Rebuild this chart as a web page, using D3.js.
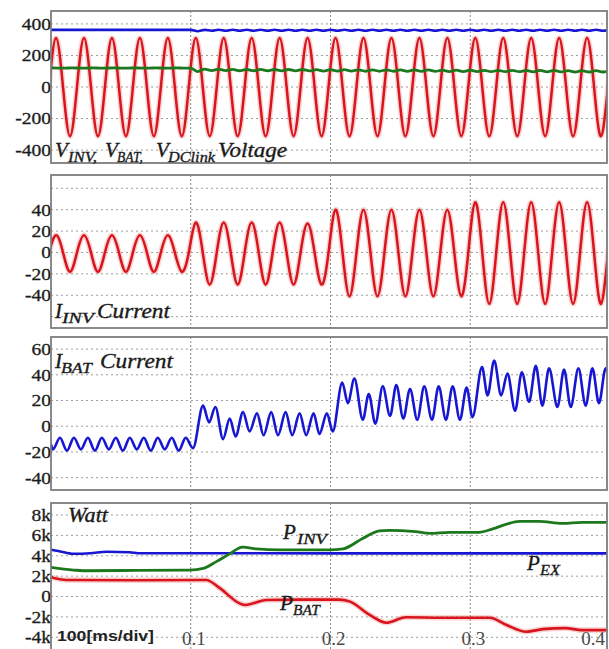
<!DOCTYPE html>
<html>
<head>
<meta charset="utf-8">
<script src="https://cdn.jsdelivr.net/npm/d3@7"></script>
<style>
    body { margin: 0; background: #fff; }
    svg { display: block; }
    .grid line { stroke: #9c9c9c; stroke-width: 1; stroke-dasharray: 2, 3; }
    .vgrid line { stroke: #8a8a8a; stroke-width: 1; stroke-dasharray: 2, 2; }
    .frame { fill: none; stroke: #7d7d7d; stroke-width: 1.8; }
    .label { font-family: "Liberation Serif", "Times New Roman", serif; font-style: italic; fill: #1a1a1a; stroke: #1a1a1a; stroke-width: 0.35; }
</style>
</head>
<body>
<svg width="609" height="649"></svg>
<script>
// ---------- data ----------
const timeTicks = [0.1, 0.2, 0.3, 0.4];

// V_INV and I_INV: one sample per quarter period (5 ms), first sample at -1.4 ms
const sineStart = -0.0014, sineStep = 0.005;
const vInv = [
    0, 310, 0, -312, 0, 310, 0, -312, 0, 310, 0, -312, 0, 310, 0, -312, 0, 310, 0, -312,
    0, 310, 0, -312, 0, 310, 0, -312, 0, 310, 0, -312, 0, 310, 0, -312, 0, 310, 0, -312,
    0, 310, 0, -312, 0, 310, 0, -312, 0, 310, 0, -312, 0, 310, 0, -312, 0, 310, 0, -312,
    0, 310, 0, -312, 0, 310, 0, -312, 0, 310, 0, -312, 0, 310, 0, -312, 0, 310, 0, -312,
    0, 310
];
const iInv = [
    0, 16, 0, -18, 0, 16, 0, -18, 0, 16, 0, -18, 0, 16, 0, -18, 0, 16, 0, -18,
    0, 28, 0, -30, 0, 28, 0, -30, 0, 28, 0, -30, 0, 28, 0, -30, 0, 27, 0, -30,
    0, 40, 0, -41, 0, 40, 0, -41, 0, 40, 0, -41, 0, 40, 0, -41, 0, 40, 0, -41,
    0, 47, 0, -48, 0, 47, 0, -48, 0, 47, 0, -48, 0, 47, 0, -48, 0, 47, 0, -48,
    0, 47
];

// V_DClink and V_BAT: one sample every 5 ms from 0
const dcStart = 0, dcStep = 0.005;
const vDclink = [
    362, 362, 362, 362, 362, 362, 362, 362, 362, 362, 362, 362, 362, 362, 362, 362, 362, 362, 362, 362, 362,
    354, 362, 357, 363, 357, 363, 357, 363, 357, 363, 357, 363, 357, 363, 357, 363, 357, 363, 357, 363,
    357, 363, 357, 363, 357, 363, 357, 363, 357, 363, 357, 363, 357, 363, 357, 363, 357, 363, 357, 363,
    357, 363, 357, 363, 357, 363, 357, 363, 357, 363, 357, 363, 357, 363, 357, 363, 357, 363, 357, 363
];
const vBat = [
    121, 120, 120, 121, 120, 120, 121, 120, 120, 121, 120, 120, 121, 120, 120, 121, 120, 120, 121, 120, 120,
    98, 113, 104, 113, 104, 112, 103, 112, 103, 112, 103, 111, 102, 111, 102, 111, 102, 110, 101, 110,
    101, 110, 101, 109, 100, 109, 100, 109, 100, 108, 99, 108, 99, 108, 99, 107, 98, 107, 98, 107,
    98, 106, 97, 106, 97, 106, 97, 105, 96, 105, 96, 105, 96, 104, 95, 104, 95, 104, 95, 104
];
const voltTicks = [400, 200, 0, -200, -400];

const iInvTicks = [40, 20, 0, -20, -40];
const iInvGrid = [60, 40, 20, 0, -20, -40, -60];

// I_BAT: peaks and troughs
const iBatTime = [
    0, 0.0014, 0.0064, 0.0114, 0.0164, 0.0214, 0.0264, 0.0314, 0.0364, 0.0414, 0.0464,
    0.0514, 0.0564, 0.0614, 0.0664, 0.0714, 0.0764, 0.0814, 0.0864, 0.0914, 0.0964, 0.1016,
    0.1088, 0.1131, 0.1176, 0.1231, 0.1279, 0.1321, 0.1374, 0.1421, 0.1474, 0.1521,
    0.1576, 0.1624, 0.1679, 0.1726, 0.1779, 0.1826, 0.1879, 0.1921, 0.1974, 0.2016,
    0.2084, 0.2124, 0.2171, 0.2231, 0.2274, 0.2321, 0.2374, 0.2426, 0.2471, 0.2521,
    0.2569, 0.2621, 0.2671, 0.2726, 0.2774, 0.2826, 0.2874, 0.2926, 0.2974, 0.3016,
    0.3084, 0.3124, 0.3171, 0.3221, 0.3266, 0.3321, 0.3369, 0.3421, 0.3469, 0.3516,
    0.3564, 0.3624, 0.3671, 0.3719, 0.3774, 0.3826, 0.3874, 0.3921, 0.3969, 0.4020
];
const iBatValue = [
    -14, -18, -9, -19, -9, -18, -9, -19, -9, -18, -9,
    -19, -9, -18, -9, -19, -9, -18, -9, -19, -9, -17,
    16, 3, 15, -10, 6, -8, 11, -4, 10, -7,
    11, -7, 11, -7, 10, -7, 10, -6, 10, -4,
    34, 18, 37, 5, 25, 2, 31, 8, 32, 6,
    29, 5, 31, 5, 31, 5, 31, 5, 30, 7,
    46, 24, 51, 24, 41, 12, 42, 19, 47, 16,
    45, 15, 44, 15, 45, 16, 45, 18, 45, 18
];
const iBatTicks = [60, 40, 20, 0, -20, -40];

// power (W)
const pInvTime = [0, 0.016, 0.023, 0.060, 0.099, 0.109, 0.118, 0.128, 0.137, 0.147, 0.164, 0.199, 0.209,
    0.223, 0.235, 0.242, 0.261, 0.271, 0.285, 0.306, 0.316, 0.326, 0.335, 0.349, 0.366, 0.380, 0.400];
const pInvValue = [2870, 2600, 2530, 2560, 2600, 2770, 3400, 4200, 4840, 4680, 4580, 4580, 4680,
    5700, 6450, 6500, 6360, 6200, 6300, 6300, 6630, 7100, 7370, 7370, 7170, 7270, 7270];
const pBatTime = [0, 0.011, 0.060, 0.111, 0.121, 0.135, 0.139, 0.154, 0.178, 0.206, 0.214,
    0.228, 0.240, 0.254, 0.280, 0.314, 0.326, 0.340, 0.352, 0.368, 0.380, 0.400];
const pBatValue = [1900, 1620, 1600, 1620, 800, -670, -830, -340, -300, -300, -500,
    -1800, -2570, -2040, -2080, -2080, -2800, -3450, -3200, -3100, -3300, -3300];
const pExTime = [0, 0.006, 0.016, 0.028, 0.040, 0.056, 0.064, 0.100, 0.200, 0.300, 0.400];
const pExValue = [4600, 4450, 4200, 4250, 4400, 4350, 4250, 4250, 4230, 4230, 4230];
const powerTicks = [8000, 6000, 4000, 2000, 0, -2000, -4000];

// ---------- drawing ----------
const svg = d3.select("svg"),
    width = +svg.attr("width"),
    height = +svg.attr("height"),
    left = 51,
    right = 607;

const RED = "#d8141d", BLUE = "#1717d2", GREEN = "#1d781d";

const x = d3.scaleLinear().domain([0, 0.4]).range([left, 610]);

function sampled(values, start, step) {
    return values.map((v, i) => [start + i * step, v]);
}

function paired(times, values) {
    return times.map((t, i) => [t, values[i]]);
}

function createPanel(id, top, bottom, domain, ticks, grid, fmt) {
    let y = d3.scaleLinear().domain(domain).range([bottom, top]);

    svg.append("clipPath").attr("id", id)
        .append("rect")
        .attr("x", left).attr("y", top)
        .attr("width", right - left).attr("height", bottom - top);

    svg.append("g").attr("class", "grid")
        .selectAll("line")
        .data(grid)
        .enter()
        .append("line")
        .attr("x1", left).attr("x2", right)
        .attr("y1", d => y(d)).attr("y2", d => y(d));

    svg.append("g").attr("class", "vgrid")
        .selectAll("line")
        .data(timeTicks.filter(t => x(t) < right))
        .enter()
        .append("line")
        .attr("x1", d => x(d)).attr("x2", d => x(d))
        .attr("y1", top).attr("y2", bottom);

    let axis = d3.axisLeft(y).tickValues(ticks).tickSize(0).tickPadding(0).tickFormat(fmt);
    svg.append("g")
        .attr("transform", `translate(${left}, 0)`)
        .call(axis)
        .call(g => g.select(".domain").remove())
        .selectAll("text")
        .attr("x", 0)
        .attr("transform", "scale(1.15,1)")
        .style("font-family", '"Liberation Serif", "Times New Roman", serif')
        .style("font-size", "17px")
        .style("fill", "#1c1c1c")
        .style("stroke", "#1c1c1c")
        .style("stroke-width", 0.3);

    let plot = svg.append("g").attr("clip-path", `url(#${id})`);
    return [plot, y];
}

function drawFrame(top, bottom) {
    svg.append("rect").attr("class", "frame")
        .attr("x", left).attr("y", top)
        .attr("width", right - left).attr("height", bottom - top);
}

function drawLine(g, data, y, color, curve, w, halo) {
    let line = d3.line()
        .x(d => x(d[0]))
        .y(d => y(d[1]))
        .curve(curve);
    if (halo) {
        g.append("path").datum(data)
            .attr("d", line)
            .attr("fill", "none")
            .attr("stroke", halo)
            .attr("stroke-width", w + 3)
            .attr("stroke-opacity", 0.35);
    }
    g.append("path").datum(data)
        .attr("d", line)
        .attr("fill", "none")
        .attr("stroke", color)
        .attr("stroke-width", w)
        .attr("stroke-linejoin", "round");
}

// label made of [text, x, isSub] pieces
function drawLabel(baseline, size, parts) {
    let t = svg.append("text").attr("class", "label")
        .attr("y", baseline)
        .style("font-size", size + "px");
    parts.forEach(p => {
        let s = t.append("tspan")
            .attr("x", p[1])
            .attr("y", p[2] ? baseline + 5 : baseline)
            .style("font-size", p[2] ? (size * 0.72) + "px" : size + "px")
            .text(p[0]);
        if (p[3]) s.attr("textLength", p[3]).attr("lengthAdjust", "spacingAndGlyphs");
    });
}

const plain = d => String(d);

// panel 1: voltages
let [g1, y1] = createPanel("c1", 11, 163, [-482, 482], voltTicks, voltTicks, plain);
drawLine(g1, sampled(vInv, sineStart, sineStep), y1, RED, d3.curveNatural, 2.5, "#f08080");
drawLine(g1, sampled(vBat, dcStart, dcStep), y1, GREEN, d3.curveMonotoneX, 2.8);
drawLine(g1, sampled(vDclink, dcStart, dcStep), y1, BLUE, d3.curveMonotoneX, 2.6);
drawFrame(11, 163);
drawLabel(157, 21, [["V", 55], ["INV,", 68, true, 29], ["V", 105], ["BAT,", 117, true, 26],
    ["V", 156], ["DClink", 168, true, 47], ["Voltage", 218, false, 69]]);

// panel 2: inverter current
let [g2, y2] = createPanel("c2", 175, 328, [-70.6, 72.4], iInvTicks, iInvGrid, plain);
drawLine(g2, sampled(iInv, sineStart, sineStep), y2, RED, d3.curveNatural, 2.5, "#f08080");
drawFrame(175, 328);
drawLabel(318, 21, [["I", 55], ["INV", 62, true, 32], ["Current", 97, false, 73]]);

// panel 3: battery current
let [g3, y3] = createPanel("c3", 337, 490, [-49.6, 69.4], iBatTicks, iBatTicks, plain);
drawLine(g3, paired(iBatTime, iBatValue), y3, BLUE, d3.curveMonotoneX, 2.6);
drawFrame(337, 490);
drawLabel(368, 21, [["I", 55], ["BAT", 61, true, 31], ["Current", 100, false, 73]]);

// panel 4: power
let [g4, y4] = createPanel("c4", 503, 652, [-5443, 9178], powerTicks, powerTicks,
    d => d === 0 ? "0" : (d / 1000) + "k");
drawLine(g4, paired(pExTime, pExValue), y4, BLUE, d3.curveMonotoneX, 2.6);
drawLine(g4, paired(pInvTime, pInvValue), y4, GREEN, d3.curveMonotoneX, 2.8);
drawLine(g4, paired(pBatTime, pBatValue), y4, RED, d3.curveMonotoneX, 2.6, "#f08080");
drawFrame(503, 652);
drawLabel(522, 21, [["Watt", 68, false, 40]]);
drawLabel(539, 21, [["P", 283], ["INV", 297, true, 30]]);
drawLabel(610, 21, [["P", 280], ["BAT", 293, true, 27]]);
drawLabel(570, 21, [["P", 527], ["EX", 540, true, 20]]);

svg.append("text")
    .attr("x", 57).attr("y", 641)
    .attr("textLength", 97)
    .attr("lengthAdjust", "spacingAndGlyphs")
    .style("font-family", '"Liberation Sans", Arial, sans-serif')
    .style("font-weight", "bold")
    .style("font-size", "15px")
    .style("fill", "#222")
    .text("100[ms/div]");

svg.append("g")
    .selectAll("text")
    .data(timeTicks)
    .enter()
    .append("text")
    .attr("x", d => x(d) < right ? x(d) + 3 : right - 2)
    .attr("y", 645)
    .attr("text-anchor", d => x(d) < right ? "middle" : "end")
    .style("font-family", '"Liberation Serif", "Times New Roman", serif')
    .style("font-size", "19px")
    .style("fill", "#4a4a4a")
    .text(d => d);
</script>
</body>
</html>
